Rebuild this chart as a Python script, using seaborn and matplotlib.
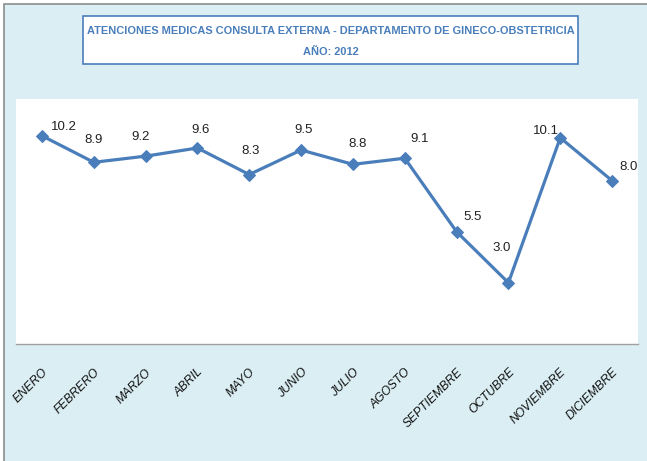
import matplotlib
matplotlib.use('Agg')
import matplotlib.pyplot as plt
import matplotlib.patches as mpatches
import pandas as pd
import seaborn as sns

meses = ['ENERO', 'FEBRERO', 'MARZO', 'ABRIL', 'MAYO', 'JUNIO', 'JULIO',
         'AGOSTO', 'SEPTIEMBRE', 'OCTUBRE', 'NOVIEMBRE', 'DICIEMBRE']
atenciones = [10.2, 8.9, 9.2, 9.6, 8.3, 9.5, 8.8, 9.1, 5.5, 3.0, 10.1, 8.0]

titulo1 = 'ATENCIONES MEDICAS CONSULTA EXTERNA - DEPARTAMENTO DE GINECO-OBSTETRICIA'
titulo2 = 'AÑO: 2012'

# label offsets (pixels) as placed in the original sheet
offsets = [(22, 9), (0, 22), (-5, 19), (3, 18), (1, 24), (2, 20), (5, 20),
           (15, 19), (16, 15), (-7, 35), (-14, 7), (16, 14)]

sns.set_theme(style='white')
plt.rcParams['font.family'] = ['Liberation Sans', 'DejaVu Sans']

bg = '#DAEEF3'
azul = '#4A7EBB'

W, H = 647, 461
fig = plt.figure(figsize=(W / 100, H / 100), dpi=100)
fig.patch.set_facecolor('white')

# outer chart frame (cropped at right/bottom)
fig.patches.append(mpatches.Rectangle((4 / W, -0.01), 1, 1 - 4 / H + 0.01, transform=fig.transFigure,
                                      facecolor=bg, edgecolor='#8C8C8C', lw=1.2, zorder=-1))

ax = fig.add_axes([16 / W, 1 - 344 / H, (638 - 16) / W, (344 - 99) / H])
ax.set_zorder(1)
ax.set_facecolor('white')

df = pd.DataFrame({'mes': meses, 'valor': atenciones})
sns.lineplot(data=df, x='mes', y='valor', sort=False, color=azul, lw=2.3,
             marker='D', markersize=6.5, markeredgecolor=azul, ax=ax)

for i, v in enumerate(atenciones):
    dx, dy = offsets[i]
    ax.annotate(f'{v:.1f}', (i, v), xytext=(dx * 0.72, dy * 0.72), textcoords='offset points',
                ha='center', va='center', fontsize=9.5, color='#222222')

ax.set_xlim(-0.5, 11.5)
ax.set_ylim(0, 12)
ax.set_yticks([])
ax.set_xlabel('')
ax.set_ylabel('')
ax.tick_params(axis='x', length=0, pad=16)
for lbl in ax.get_xticklabels():
    lbl.set_rotation(45)
    lbl.set_ha('right')
    lbl.set_rotation_mode('anchor')
    lbl.set_fontstyle('italic')
    lbl.set_fontsize(8.7)
    lbl.set_color('#111111')
for s in ['top', 'left', 'right']:
    ax.spines[s].set_visible(False)
ax.spines['bottom'].set_color('#A0A0A0')
ax.spines['bottom'].set_linewidth(1.0)

# title box
fig.patches.append(mpatches.Rectangle((83 / W, 1 - 64 / H), (578 - 83) / W, 48 / H,
                                      transform=fig.transFigure, facecolor='white',
                                      edgecolor=azul, lw=1.2, zorder=2))
fig.text(330.5 / W, 1 - 31 / H, titulo1, ha='center', va='center', fontsize=7.9,
         color=azul, fontweight='bold', zorder=3)
fig.text(330.5 / W, 1 - 52 / H, titulo2, ha='center', va='center', fontsize=7.9,
         color=azul, fontweight='bold', zorder=3)

fig.savefig('out.png', dpi=100, facecolor=fig.get_facecolor())
